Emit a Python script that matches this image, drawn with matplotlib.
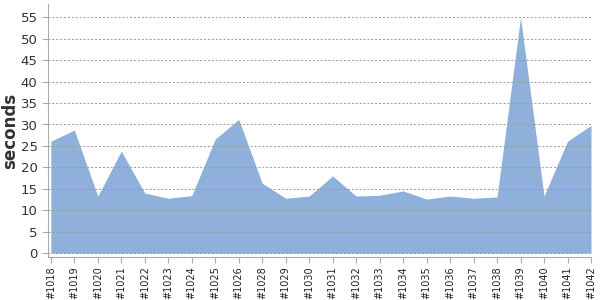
import matplotlib
matplotlib.use("Agg")
import matplotlib.pyplot as plt

builds = ["#1018", "#1019", "#1020", "#1021", "#1022", "#1023", "#1024", "#1025",
          "#1026", "#1028", "#1029", "#1030", "#1031", "#1032", "#1033", "#1034",
          "#1035", "#1036", "#1037", "#1038", "#1039", "#1040", "#1041", "#1042"]
seconds = [26.1, 28.7, 13.3, 23.8, 14.0, 12.8, 13.4, 26.6,
           31.2, 16.3, 12.8, 13.3, 18.0, 13.3, 13.5, 14.5,
           12.6, 13.3, 12.8, 13.1, 55.0, 13.3, 26.1, 29.8]
yticks = list(range(0, 60, 5))

fig = plt.figure(figsize=(6, 3), dpi=100)
ax = fig.add_axes([0.08, 0.145, 0.905, 0.84])
x = list(range(len(builds)))
ax.fill_between(x, seconds, 0, color="#8eb0da", linewidth=0, zorder=1)
ax.set_xlim(-0.12, len(builds) - 1)
ax.set_ylim(-0.8, 58)
ax.set_yticks(yticks)
ax.set_xticks(x)
ax.set_xticklabels(builds, rotation=90, fontsize=7, color="#222222")
ax.tick_params(axis="y", labelsize=9.5, labelcolor="#333333", length=4, color="#aaaaaa")
ax.tick_params(axis="x", length=4, color="#aaaaaa", pad=3)
ax.grid(axis="y", linestyle=(0, (2, 2)), color="#999999", linewidth=0.7, zorder=2)
ax.set_axisbelow(False)
for s in ["top", "right"]:
    ax.spines[s].set_visible(False)
for s in ["left", "bottom"]:
    ax.spines[s].set_color("#aaaaaa")
ax.set_ylabel("seconds", fontsize=12, fontweight="bold", color="#333333", labelpad=1)
fig.savefig("out.png", dpi=100)
